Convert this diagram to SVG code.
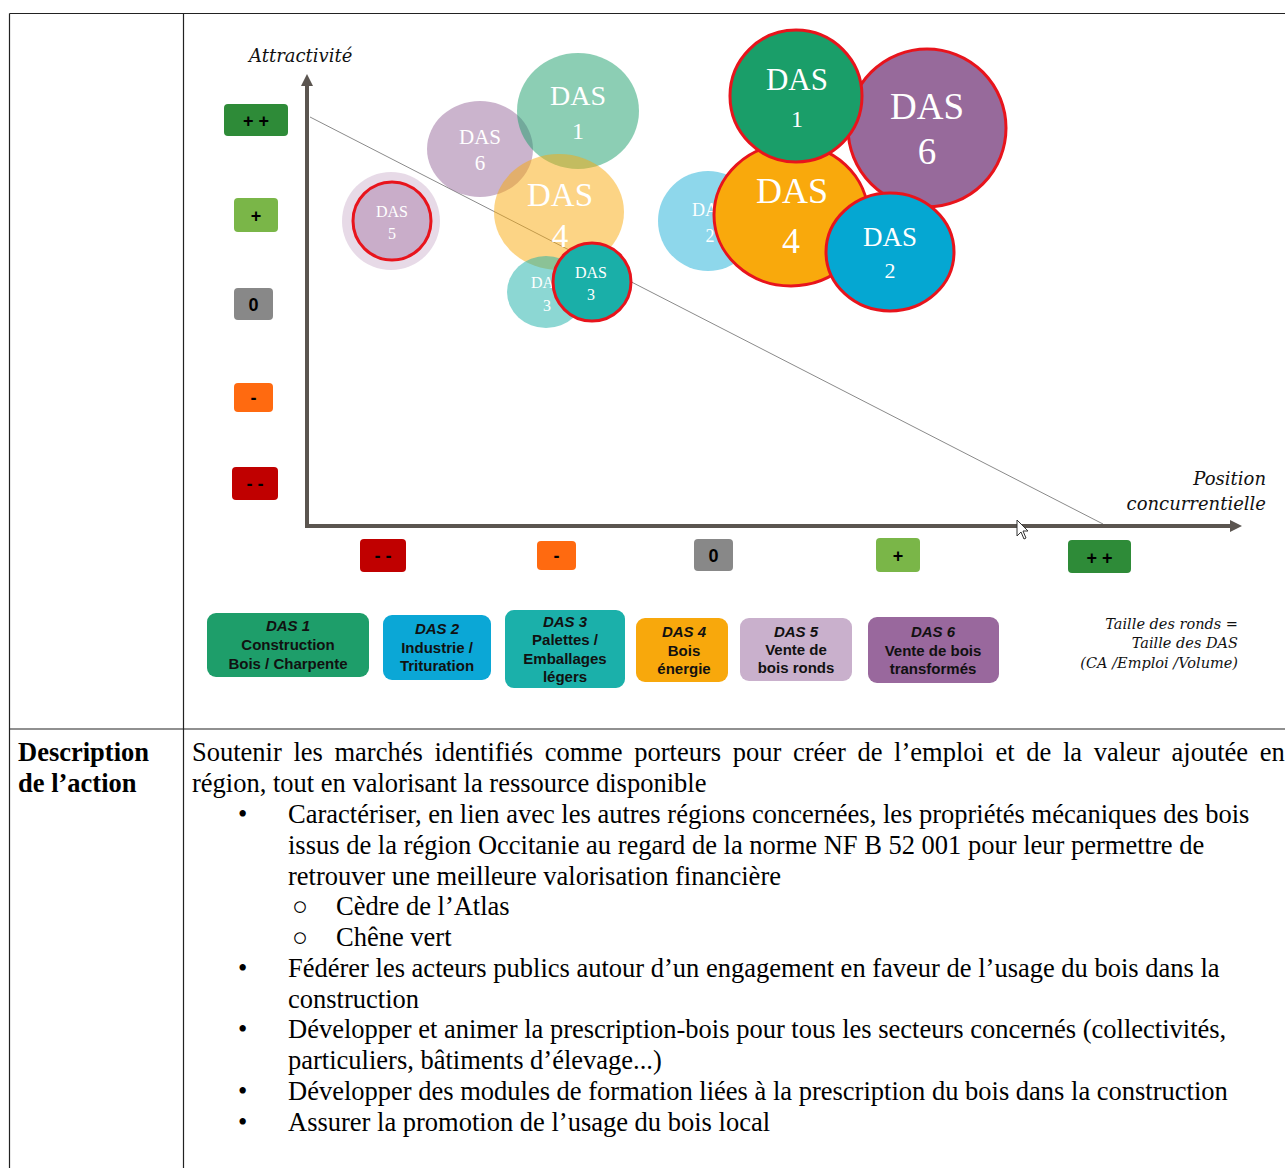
<svg xmlns="http://www.w3.org/2000/svg" width="1285" height="1168" viewBox="0 0 1285 1168">
<defs>
<style>
.grid{stroke:#222;stroke-width:1.2;fill:none}
.axis{stroke:#5b5550;stroke-width:4;fill:none}
.tick{font-family:"Liberation Sans",Arial,sans-serif;font-weight:bold;font-size:18px;fill:#000;text-anchor:middle}
.bub{font-family:"Liberation Serif","Times New Roman",serif;fill:#fff;text-anchor:middle}
.ital{font-family:"DejaVu Serif","Liberation Serif",serif;font-style:italic;fill:#111}
.leg{font-family:"Liberation Sans",Arial,sans-serif;font-weight:bold;font-size:15px;fill:#111;text-anchor:middle}
.legt{font-style:italic}
.body{font-family:"Liberation Serif","Times New Roman",serif;font-size:26.5px;fill:#000}
.red{stroke:#e8141c;stroke-width:3}
</style>
<marker id="ah" viewBox="0 0 10 10" refX="5" refY="5" markerWidth="3" markerHeight="3" orient="auto-start-reverse">
<path d="M0,0 L10,5 L0,10 z" fill="#5b5550"/>
</marker>
</defs>
<rect width="1285" height="1168" fill="#fff"/>

<g id="table">
<line class="grid" x1="9.5" y1="13.5" x2="1285" y2="13.5"/>
<line class="grid" x1="9.5" y1="13.5" x2="9.5" y2="1168"/>
<line class="grid" x1="183.5" y1="13.5" x2="183.5" y2="1168"/>
<line class="grid" x1="9.5" y1="729" x2="1285" y2="729"/>
</g>

<g id="connectors">
<line x1="310" y1="117" x2="1103" y2="524" stroke="#8a8a8a" stroke-width="1"/>
<line class="axis" x1="307" y1="528" x2="307" y2="80" marker-end="url(#ah)"/>
<line class="axis" x1="305" y1="526" x2="1236" y2="526" marker-end="url(#ah)"/>
</g>

<g id="axis-labels">
<text class="ital" x="249" y="62" font-size="18">Attractivité</text>
<text class="ital" x="1266" y="485" font-size="18" text-anchor="end">Position</text>
<text class="ital" x="1266" y="510" font-size="18" text-anchor="end">concurrentielle</text>
</g>

<g id="y-ticks">
<g id="y-pp"><rect x="224" y="104" width="64" height="32" rx="4" fill="#2e8b38"/><text class="tick" x="256" y="127">+ +</text></g>
<g id="y-p"><rect x="234" y="198" width="44" height="34" rx="4" fill="#7ab648"/><text class="tick" x="256" y="222">+</text></g>
<g id="y-0"><rect x="234" y="288" width="39" height="32" rx="4" fill="#888888"/><text class="tick" x="253.5" y="311">0</text></g>
<g id="y-m"><rect x="234" y="383" width="39" height="29" rx="4" fill="#ff6a10"/><text class="tick" x="253.5" y="404">-</text></g>
<g id="y-mm"><rect x="232" y="467" width="46" height="33" rx="4" fill="#c00000"/><text class="tick" x="255" y="490">- -</text></g>
</g>

<g id="x-ticks">
<g id="x-mm"><rect x="360" y="539" width="46" height="33" rx="4" fill="#c00000"/><text class="tick" x="383" y="562">- -</text></g>
<g id="x-m"><rect x="537" y="541" width="39" height="29" rx="4" fill="#ff6a10"/><text class="tick" x="556.5" y="562">-</text></g>
<g id="x-0"><rect x="694" y="539" width="39" height="32" rx="4" fill="#888888"/><text class="tick" x="713.5" y="562">0</text></g>
<g id="x-p"><rect x="876" y="538" width="44" height="34" rx="4" fill="#7ab648"/><text class="tick" x="898" y="562">+</text></g>
<g id="x-pp"><rect x="1068" y="540" width="63" height="33" rx="4" fill="#2e8b38"/><text class="tick" x="1099.5" y="564">+ +</text></g>
</g>

<g id="bubbles-before">
<g id="b6-old"><ellipse cx="480" cy="149" rx="53" ry="48" fill="#976a9b" fill-opacity="0.5"/><text class="bub" x="480" y="144" font-size="21">DAS</text><text class="bub" x="480" y="170" font-size="21">6</text></g>
<g id="b1-old"><ellipse cx="578" cy="111" rx="61" ry="58" fill="#1a9e69" fill-opacity="0.5"/><text class="bub" x="578" y="105" font-size="28">DAS</text><text class="bub" x="578" y="139" font-size="24">1</text></g>
<g id="b4-old"><ellipse cx="559" cy="212" rx="65" ry="58" fill="#f9a90c" fill-opacity="0.5"/><text class="bub" x="560" y="206" font-size="33">DAS</text><text class="bub" x="560" y="247" font-size="33">4</text></g>
<g id="b5"><circle cx="391" cy="221" r="49" fill="#c9adc9" fill-opacity="0.45"/><circle class="red" cx="392" cy="221" r="39" fill="#c9adc9"/><text class="bub" x="392" y="217" font-size="16">DAS</text><text class="bub" x="392" y="239" font-size="16">5</text></g>
<g id="b3-old"><ellipse cx="546" cy="292" rx="39" ry="36" fill="#1aafa8" fill-opacity="0.5"/><text class="bub" x="547" y="288" font-size="16">DAS</text><text class="bub" x="547" y="311" font-size="16">3</text></g>
<g id="b3"><circle class="red" cx="592" cy="282" r="39" fill="#1aafa8"/><text class="bub" x="591" y="278" font-size="16">DAS</text><text class="bub" x="591" y="300" font-size="16">3</text></g>
</g>

<g id="bubbles-after">
<g id="b2-old"><circle cx="708" cy="221" r="50" fill="#05a7d2" fill-opacity="0.45"/><text class="bub" x="710" y="216" font-size="18">DAS</text><text class="bub" x="710" y="242" font-size="18">2</text></g>
<g id="b4"><ellipse class="red" cx="791" cy="215" rx="77" ry="71" fill="#f9a90c"/><text class="bub" x="792" y="203" font-size="36">DAS</text><text class="bub" x="791" y="253" font-size="36">4</text></g>
<g id="b6"><circle class="red" cx="927" cy="128" r="79" fill="#976a9b"/><text class="bub" x="927" y="119" font-size="37">DAS</text><text class="bub" x="927" y="164" font-size="37">6</text></g>
<g id="b1"><circle class="red" cx="796" cy="96" r="66" fill="#1a9e69"/><text class="bub" x="797" y="90" font-size="31">DAS</text><text class="bub" x="797" y="127" font-size="24">1</text></g>
<g id="b2"><ellipse class="red" cx="890" cy="252" rx="64" ry="59" fill="#05a7d2"/><text class="bub" x="890" y="246" font-size="27">DAS</text><text class="bub" x="890" y="278" font-size="22">2</text></g>
</g>

<g id="cursor">
<path d="M1017,520 L1017,536 L1021,532 L1024,539 L1026,538 L1023,531 L1028,531 Z" fill="#fff" stroke="#333" stroke-width="1"/>
</g>

<g id="legend">
<g id="l1"><rect x="207" y="613" width="162" height="64" rx="9" fill="#1e9e6a"/><text class="leg" x="288" y="631"><tspan class="legt">DAS 1</tspan></text><text class="leg" x="288" y="650">Construction</text><text class="leg" x="288" y="669">Bois / Charpente</text></g>
<g id="l2"><rect x="383" y="615" width="108" height="65" rx="9" fill="#0ba7d6"/><text class="leg" x="437" y="634"><tspan class="legt">DAS 2</tspan></text><text class="leg" x="437" y="653">Industrie /</text><text class="leg" x="437" y="671">Trituration</text></g>
<g id="l3"><rect x="505" y="610" width="120" height="78" rx="9" fill="#1bb0aa"/><text class="leg" x="565" y="627"><tspan class="legt">DAS 3</tspan></text><text class="leg" x="565" y="645">Palettes /</text><text class="leg" x="565" y="664">Emballages</text><text class="leg" x="565" y="682">légers</text></g>
<g id="l4"><rect x="636" y="618" width="92" height="64" rx="9" fill="#f8a80c"/><text class="leg" x="684" y="637"><tspan class="legt">DAS 4</tspan></text><text class="leg" x="684" y="656">Bois</text><text class="leg" x="684" y="674">énergie</text></g>
<g id="l5"><rect x="740" y="618" width="112" height="63" rx="9" fill="#c9b0cc"/><text class="leg" x="796" y="637"><tspan class="legt">DAS 5</tspan></text><text class="leg" x="796" y="655">Vente de</text><text class="leg" x="796" y="673">bois ronds</text></g>
<g id="l6"><rect x="868" y="617" width="131" height="66" rx="9" fill="#99689d"/><text class="leg" x="933" y="637"><tspan class="legt">DAS 6</tspan></text><text class="leg" x="933" y="656">Vente de bois</text><text class="leg" x="933" y="674">transformés</text></g>
<g id="size-note">
<text class="ital" x="1238" y="629" font-size="14.5" text-anchor="end">Taille des ronds =</text>
<text class="ital" x="1238" y="648" font-size="14.5" text-anchor="end">Taille des DAS</text>
<text class="ital" x="1238" y="668" font-size="14.5" text-anchor="end">(CA /Emploi /Volume)</text>
</g>
</g>

<g id="description">
<text class="body" x="18" y="761" font-weight="bold">Description</text>
<text class="body" x="18" y="792" font-weight="bold">de l’action</text>
<text class="body" x="192" y="761" word-spacing="5">Soutenir les marchés identifiés comme porteurs pour créer de l’emploi et de la valeur ajoutée en</text>
<text class="body" x="192" y="792">région, tout en valorisant la ressource disponible</text>
<text class="body" x="238" y="823">•</text>
<text class="body" x="288" y="823">Caractériser, en lien avec les autres régions concernées, les propriétés mécaniques des bois</text>
<text class="body" x="288" y="854">issus de la région Occitanie au regard de la norme NF B 52 001 pour leur permettre de</text>
<text class="body" x="288" y="885">retrouver une meilleure valorisation financière</text>
<text class="body" x="292" y="915" font-size="20">○</text>
<text class="body" x="336" y="915">Cèdre de l’Atlas</text>
<text class="body" x="292" y="946" font-size="20">○</text>
<text class="body" x="336" y="946">Chêne vert</text>
<text class="body" x="238" y="977">•</text>
<text class="body" x="288" y="977">Fédérer les acteurs publics autour d’un engagement en faveur de l’usage du bois dans la</text>
<text class="body" x="288" y="1008">construction</text>
<text class="body" x="238" y="1038">•</text>
<text class="body" x="288" y="1038">Développer et animer la prescription-bois pour tous les secteurs concernés (collectivités,</text>
<text class="body" x="288" y="1069">particuliers, bâtiments d’élevage...)</text>
<text class="body" x="238" y="1100">•</text>
<text class="body" x="288" y="1100">Développer des modules de formation liées à la prescription du bois dans la construction</text>
<text class="body" x="238" y="1131">•</text>
<text class="body" x="288" y="1131">Assurer la promotion de l’usage du bois local</text>
</g>
</svg>
